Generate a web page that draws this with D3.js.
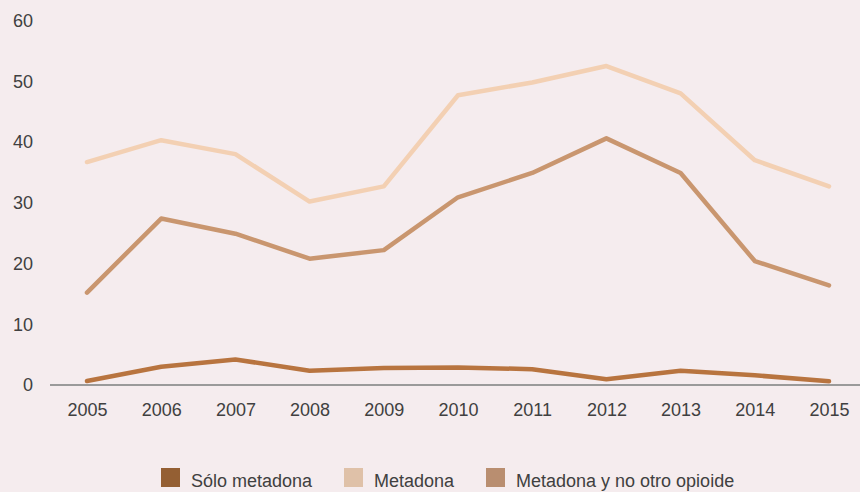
<!DOCTYPE html>
<html>
<head>
<meta charset="utf-8">
<script src="https://cdn.jsdelivr.net/npm/d3@7"></script>
<style>
  body { margin: 0; background: #f5ecee; }
  svg text { font-family: "Liberation Sans", Arial, sans-serif; fill: #404040; }
</style>
</head>
<body>
<div id="graphic"></div>
<script>
const years = [2005, 2006, 2007, 2008, 2009, 2010, 2011, 2012, 2013, 2014, 2015];
const soloMetadona = [0.65, 3.0, 4.2, 2.35, 2.8, 2.9, 2.6, 0.95, 2.35, 1.6, 0.6];
const metadona = [36.7, 40.3, 38.0, 30.2, 32.7, 47.7, 49.8, 52.5, 48.0, 37.0, 32.7];
const metadonaNoOtro = [15.2, 27.4, 24.9, 20.8, 22.2, 30.9, 34.9, 40.6, 34.9, 20.4, 16.4];
const yTicks = [0, 10, 20, 30, 40, 50, 60];

const series = [
  { name: 'Sólo metadona', values: soloMetadona, line: '#b8743f', swatch: '#945f33' },
  { name: 'Metadona', values: metadona, line: '#f3d0b3', swatch: '#dfc1a8' },
  { name: 'Metadona y no otro opioide', values: metadonaNoOtro, line: '#c9966f', swatch: '#b98e70' }
];

const width = 860, height = 492;
const fontSize = 18;
const svg = d3.select('#graphic').append('svg')
  .attr('width', width).attr('height', height);

svg.append('rect').attr('width', width).attr('height', height).attr('fill', '#f5ecee');

const x = d3.scaleLinear().domain([2005, 2015]).range([87, 829]);
const y = d3.scaleLinear().domain([0, 60]).range([385, 20.5]);

// y labels (no axis line)
const yAxis = svg.append('g')
  .attr('transform', 'translate(33,0)')
  .call(d3.axisLeft(y).tickValues(yTicks).tickSize(0).tickPadding(0).tickFormat(d3.format('d')));
yAxis.select('.domain').remove();
yAxis.selectAll('text').attr('font-size', fontSize)
  .style('font-family', '"Liberation Sans", Arial, sans-serif').attr('fill', '#404040');

// zero line
svg.append('line')
  .attr('x1', 50).attr('x2', 860)
  .attr('y1', y(0)).attr('y2', y(0))
  .attr('stroke', '#9a9a9a').attr('stroke-width', 2);

// x labels
const xAxis = svg.append('g')
  .attr('transform', `translate(0,${y(0) + 18})`)
  .call(d3.axisBottom(x).tickValues(years).tickSize(0).tickPadding(0).tickFormat(d3.format('d')));
xAxis.select('.domain').remove();
xAxis.selectAll('text').attr('font-size', fontSize)
  .style('font-family', '"Liberation Sans", Arial, sans-serif').attr('fill', '#404040');

const lineGen = d3.line()
  .x((d, i) => x(years[i]))
  .y((d) => y(d));

// draw order: metadona, no otro opioide, solo metadona
[series[1], series[2], series[0]].forEach(function (s) {
  svg.append('path')
    .datum(s.values)
    .attr('fill', 'none')
    .attr('stroke', s.line)
    .attr('stroke-width', 4.5)
    .attr('stroke-linejoin', 'round')
    .attr('stroke-linecap', 'round')
    .attr('d', lineGen);
});

// legend
const legendX = [161, 344, 486];
const legend = svg.append('g');
series.forEach(function (s, i) {
  legend.append('rect')
    .attr('x', legendX[i]).attr('y', 468)
    .attr('width', 19).attr('height', 19)
    .attr('fill', s.swatch);
  legend.append('text')
    .attr('x', legendX[i] + 30).attr('y', 487)
    .attr('font-size', fontSize)
    .text(s.name);
});
</script>
</body>
</html>
